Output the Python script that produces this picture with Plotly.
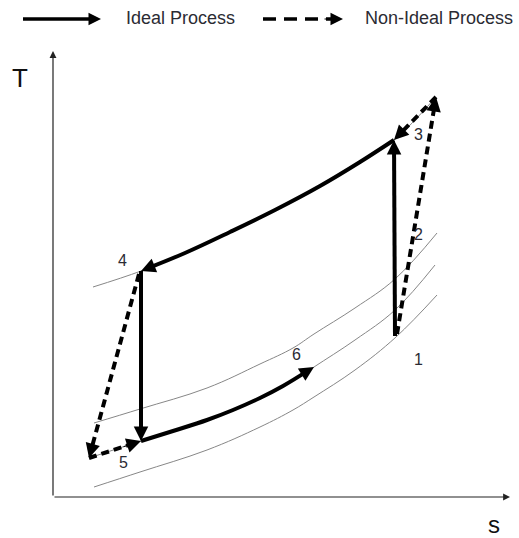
import math
import plotly.graph_objects as go

# ---- T-s diagram data (s horizontal, T vertical, arbitrary units) ----
# thin constant-pressure lines
iso_high_s = [40, 88, 132, 177, 222, 267, 307, 341, 383]
iso_high_T = [210, 226, 244, 265, 287, 311, 335, 357, 400]
iso_b_s = [41, 87, 154, 207, 240, 261, 302, 342, 384]
iso_b_T = [74, 88, 109, 133, 149, 163, 189, 218, 264]
iso_c_s = [36, 88, 154, 207, 240, 261, 302, 342, 382]
iso_c_T = [39, 56, 77, 99, 116, 130, 157, 187, 232]
iso_d_s = [41, 87, 154, 207, 240, 261, 302, 343, 384]
iso_d_T = [10, 25, 47, 70, 87, 100, 127, 160, 202]

# ideal process paths
comp_ideal_s = [342, 341]            # 1 -> 3
comp_ideal_T = [161, 357]
exp_high_s = [341, 307, 267, 222, 177, 132, 88]   # 3 -> 4
exp_high_T = [357, 335, 311, 287, 265, 244, 226]
exp_ideal_s = [88, 88]               # 4 -> 5
exp_ideal_T = [226, 56]
exp_low_s = [88, 120, 154, 180, 207, 230, 261]    # 5 -> 6
exp_low_T = [56, 66, 77, 87, 99, 111, 130]

# non-ideal process paths
comp_real_s = [344, 383]             # 1 -> 3'
comp_real_T = [163, 400]
cool_real_s = [383, 341]             # 3' -> 3
cool_real_T = [400, 357]
exp_real_s = [86, 36]                # 4 -> 5'
exp_real_T = [223, 39]
heat_real_s = [36, 88]               # 5' -> 5
heat_real_T = [39, 56]

# state labels
state_labels = ["1", "2", "3", "4", "5", "6"]
label_s = [365, 365, 365, 69, 70, 243]
label_T = [138, 263, 363, 237, 35, 143]

INK = "black"
TEXT = "#2b2b33"
FONT = "Liberation Sans, Arial, sans-serif"

fig = go.Figure()


def thin(xs, ys):
    fig.add_trace(go.Scatter(x=xs, y=ys, mode="lines", hoverinfo="skip",
                             line=dict(color="rgb(135,135,135)", width=1,
                                       shape="spline", smoothing=1.1)))


def arrow_path(xs, ys, dash=None, width=4, head=2.9, cut=7, shape="linear"):
    dx, dy = xs[-1] - xs[-2], ys[-1] - ys[-2]
    L = math.hypot(dx, dy)
    ux, uy = dx / L, dy / L
    px = list(xs[:-1]) + [xs[-1] - ux * cut]
    py = list(ys[:-1]) + [ys[-1] - uy * cut]
    line = dict(color=INK, width=width, dash=dash, shape=shape)
    if shape == "spline":
        line["smoothing"] = 1.1
    fig.add_trace(go.Scatter(x=px, y=py, mode="lines", hoverinfo="skip", line=line))
    fig.add_annotation(x=xs[-1], y=ys[-1], ax=xs[-1] - ux * 20, ay=ys[-1] - uy * 20,
                       xref="x", yref="y", axref="x", ayref="y", text="",
                       showarrow=True, arrowhead=2, arrowwidth=1, arrowsize=head,
                       arrowcolor=INK, standoff=0)


for xs, ys in [(iso_high_s, iso_high_T), (iso_b_s, iso_b_T),
               (iso_c_s, iso_c_T), (iso_d_s, iso_d_T)]:
    thin(xs, ys)

DASH = "8px,5px"
arrow_path(comp_real_s, comp_real_T, dash=DASH)
arrow_path(cool_real_s, cool_real_T, dash=DASH)
arrow_path(exp_real_s, exp_real_T, dash=DASH)
arrow_path(heat_real_s, heat_real_T, dash=DASH)
arrow_path(comp_ideal_s, comp_ideal_T)
arrow_path(exp_high_s, exp_high_T, shape="spline")
arrow_path(exp_ideal_s, exp_ideal_T)
arrow_path(exp_low_s, exp_low_T, shape="spline")

# axes with arrow tips
for (x0, y0, x1, y1) in [(0, 0, 0, 446), (0, 0, 457, 0)]:
    fig.add_annotation(x=x1, y=y1, ax=x0, ay=y0, xref="x", yref="y", axref="x", ayref="y",
                       text="", showarrow=True, arrowhead=2, arrowwidth=1.2,
                       arrowsize=1.15, arrowcolor="#222", standoff=0)
fig.add_annotation(x=-33, y=419, text="T", showarrow=False,
                   font=dict(family=FONT, size=26, color="#111"))
fig.add_annotation(x=441, y=-27, text="s", showarrow=False, yanchor="middle",
                   font=dict(family=FONT, size=24, color="#111"))

for t, xs, ys in zip(state_labels, label_s, label_T):
    fig.add_annotation(x=xs, y=ys, text=t, showarrow=False,
                       font=dict(family=FONT, size=16, color=TEXT))

# key
arrow_path([-30, 48], [478, 478], width=3.5, head=2.5, cut=6)
arrow_path([210, 290], [478, 478], dash="13px,8px", width=3.5, head=2.5, cut=6)
fig.add_annotation(x=71, y=479, text="Ideal Process", showarrow=False, xanchor="left",
                   font=dict(family=FONT, size=18, color=TEXT))
fig.add_annotation(x=310, y=479, text="Non-Ideal Process", showarrow=False, xanchor="left",
                   font=dict(family=FONT, size=18, color=TEXT))

fig.update_layout(
    width=519, height=538, margin=dict(l=0, r=0, t=0, b=0),
    paper_bgcolor="white", plot_bgcolor="white", showlegend=False,
    xaxis=dict(range=[-53, 466], visible=False, fixedrange=True),
    yaxis=dict(range=[-41, 497], visible=False, fixedrange=True),
)

fig.write_html("out.html", config={"displayModeBar": False})
